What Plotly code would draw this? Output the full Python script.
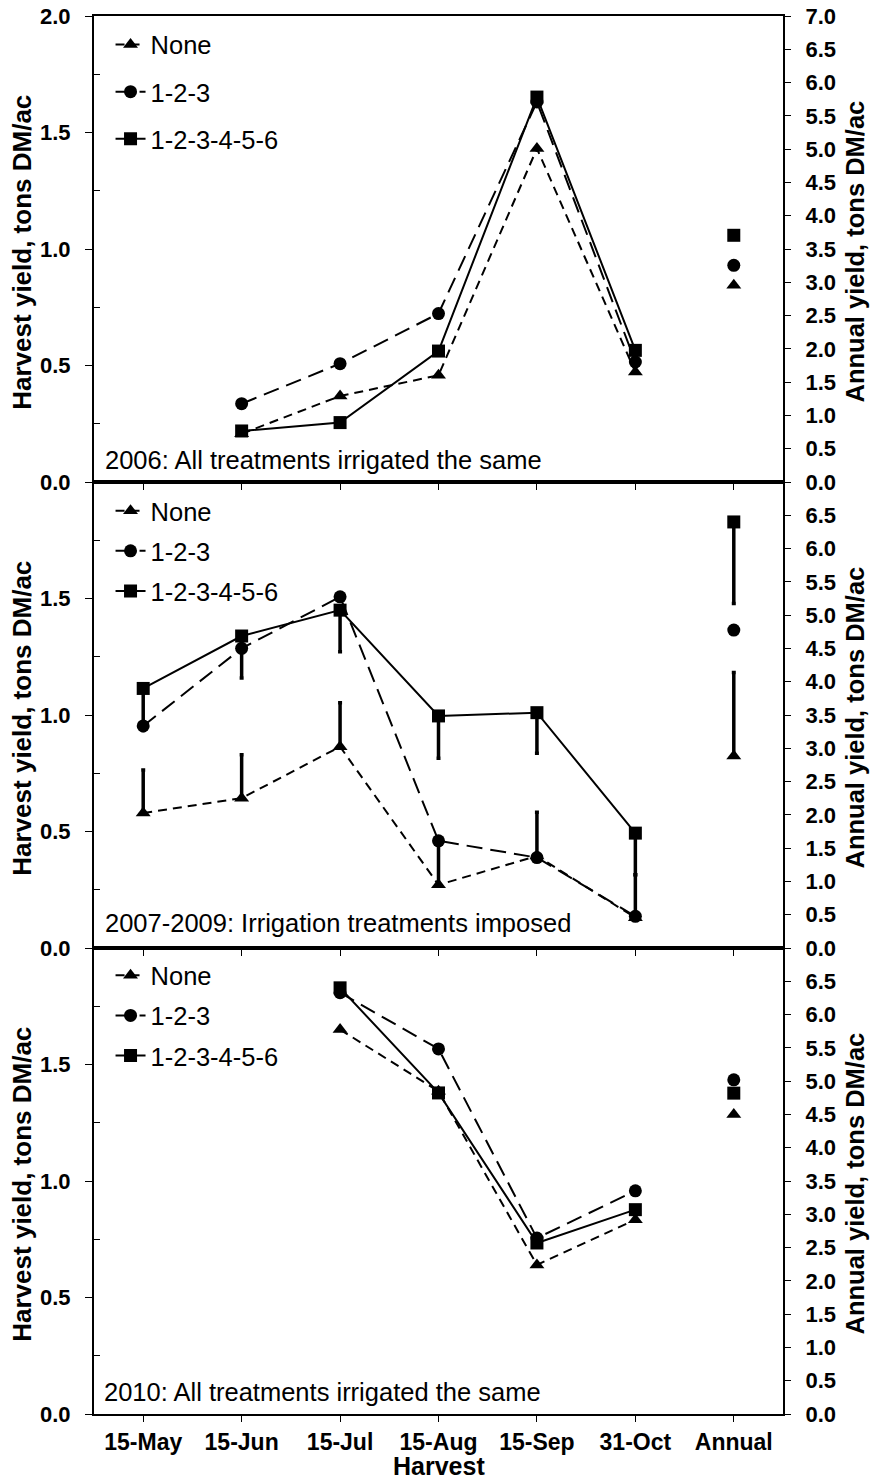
import plotly.graph_objects as go

# ---------------- data ----------------
categories = ["15-May", "15-Jun", "15-Jul", "15-Aug", "15-Sep", "31-Oct", "Annual"]
harvests = categories[:6]
annual_cat = "Annual"
treatments = ["None", "1-2-3", "1-2-3-4-5-6"]

# 2006 panel (harvest yield, tons DM/ac)
y2006_none = [None, 0.207, 0.369, 0.458, 1.431, 0.472]
y2006_123 = [None, 0.336, 0.508, 0.723, 1.631, 0.515]
y2006_all = [None, 0.219, 0.255, 0.562, 1.652, 0.565]
annual2006 = [2.955, 3.255, 3.706]          # None, 1-2-3, 1-2-3-4-5-6

# 2007-2009 panel
y0709_none = [0.579, 0.643, 0.864, 0.271, 0.395, 0.130]
y0709_123 = [0.953, 1.286, 1.507, 0.460, 0.388, 0.136]
y0709_all = [1.114, 1.339, 1.450, 0.996, 1.010, 0.493]
err0709_none_plus = [0.185, 0.186, 0.189, 0.190, 0.188, 0.184]
err0709_all_minus = [0.180, 0.180, 0.179, 0.182, 0.174, 0.179]
annual0709 = [2.885, 4.775, 6.400]
err_annual0709_none_plus = 1.255
err_annual0709_all_minus = 1.225

# 2010 panel
y2010_none = [None, None, 1.650, 1.385, 0.640, 0.834]
y2010_123 = [None, None, 1.808, 1.567, 0.755, 0.958]
y2010_all = [None, None, 1.829, 1.378, 0.734, 0.877]
annual2010 = [4.50, 5.02, 4.82]

left_ticks_top = [0.0, 0.5, 1.0, 1.5, 2.0]
left_ticks = [0.0, 0.5, 1.0, 1.5]
right_ticks_top = [i * 0.5 for i in range(15)]
right_ticks = [i * 0.5 for i in range(14)]

notes = ["2006: All treatments irrigated the same",
         "2007-2009: Irrigation treatments imposed",
         "2010: All treatments irrigated the same"]

# ---------------- styling ----------------
NARROW = "Liberation Sans, Arial, sans-serif"
BOLD = "Liberation Sans, Arial, sans-serif"
symbols = {"None": "triangle-up", "1-2-3": "circle", "1-2-3-4-5-6": "square"}
dashes = {"None": "9px,6px", "1-2-3": "16px,8px", "1-2-3-4-5-6": "solid"}
msize = 13

W, H = 871, 1479
ML, MR, MT, MB = 94, 88, 16, 65

fig = go.Figure()

panels = [
    dict(x="x", y="y", y2="y2", legend="legend",
         series=[y2006_none, y2006_123, y2006_all], annual=annual2006),
    dict(x="x2", y="y3", y2="y4", legend="legend2",
         series=[y0709_none, y0709_123, y0709_all], annual=annual0709),
    dict(x="x3", y="y5", y2="y6", legend="legend3",
         series=[y2010_none, y2010_123, y2010_all], annual=annual2010),
]

for pi, p in enumerate(panels):
    for ti, tname in enumerate(treatments):
        err = None
        if pi == 1 and tname == "None":
            err = dict(type="data", symmetric=False, array=err0709_none_plus,
                       arrayminus=[0] * 6, color="black", thickness=3.5, width=2)
        if pi == 1 and tname == "1-2-3-4-5-6":
            err = dict(type="data", symmetric=False, array=[0] * 6,
                       arrayminus=err0709_all_minus, color="black", thickness=3.5, width=2)
        fig.add_trace(go.Scatter(
            x=harvests, y=p["series"][ti], mode="lines+markers", name=tname,
            xaxis=p["x"], yaxis=p["y"], legend=p["legend"],
            legendgroup=f"{pi}-{tname}",
            line=dict(color="black", width=2, dash=dashes[tname]),
            marker=dict(symbol=symbols[tname], size=msize, color="black"),
            error_y=err, showlegend=True,
        ))
    for ti, tname in enumerate(treatments):
        err = None
        if pi == 1 and tname == "None":
            err = dict(type="data", symmetric=False, array=[err_annual0709_none_plus],
                       arrayminus=[0], color="black", thickness=3.5, width=2)
        if pi == 1 and tname == "1-2-3-4-5-6":
            err = dict(type="data", symmetric=False, array=[0],
                       arrayminus=[err_annual0709_all_minus], color="black", thickness=3.5, width=2)
        fig.add_trace(go.Scatter(
            x=[annual_cat], y=[p["annual"][ti]], mode="markers", name=tname,
            xaxis=p["x"], yaxis=p["y2"], showlegend=False,
            marker=dict(symbol=symbols[tname], size=msize, color="black"),
            error_y=err,
        ))

domains = [[2 / 3, 1.0], [1 / 3, 2 / 3], [0.0, 1 / 3]]
xcommon = dict(type="category", categoryorder="array", categoryarray=categories,
               range=[-0.5, 6.5], showline=True, linewidth=2, linecolor="black",
               mirror=True, ticks="outside", ticklen=6, tickwidth=1, tickcolor="black",
               showgrid=False, zeroline=False, automargin=False,
               tickfont=dict(family=BOLD, size=23, color="black", weight="bold"))
ycommon = dict(range=[0, 2], showline=True, linewidth=2, linecolor="black", mirror=True,
               ticks="outside", ticklen=7, tickwidth=1, tickcolor="black",
               showgrid=False, zeroline=False, tickmode="array", automargin=False,
               ticklabelstandoff=10, ticklabeloverflow="allow",
               minor=dict(tickmode="array", tickvals=[0.25, 0.75, 1.25, 1.75],
                          ticks="inside", ticklen=6, tickwidth=1, tickcolor="black",
                          showgrid=False),
               tickfont=dict(family=BOLD, size=22, color="black", weight="bold"))
y2common = dict(range=[0, 7], side="right", showline=False, ticks="outside", ticklen=7,
                tickwidth=1, tickcolor="black", showgrid=False, zeroline=False,
                tickmode="array", automargin=False, ticklabelstandoff=10,
                ticklabeloverflow="allow",
                tickfont=dict(family=BOLD, size=22, color="black", weight="bold"))

layout = dict(
    width=W, height=H, paper_bgcolor="white", plot_bgcolor="white",
    margin=dict(l=ML, r=MR, t=MT, b=MB, autoexpand=False), showlegend=True,
)
xnames = ["xaxis", "xaxis2", "xaxis3"]
ynames = ["yaxis", "yaxis3", "yaxis5"]
y2names = ["yaxis2", "yaxis4", "yaxis6"]
yrefs = ["y", "y3", "y5"]
for i in range(3):
    layout[xnames[i]] = dict(xcommon, anchor=yrefs[i], showticklabels=(i == 2))
    lt = left_ticks_top if i == 0 else left_ticks
    layout[ynames[i]] = dict(ycommon, domain=domains[i], anchor=["x", "x2", "x3"][i],
                             tickvals=lt, ticktext=[f"{v:.1f}" for v in lt])
    rt = right_ticks_top if i == 0 else right_ticks
    layout[y2names[i]] = dict(y2common, overlaying=yrefs[i], anchor=["x", "x2", "x3"][i],
                              tickvals=rt, ticktext=[f"{v:.1f}" for v in rt])

legend_style = dict(font=dict(family=NARROW, size=25.5, color="black"),
                    bgcolor="rgba(0,0,0,0)", borderwidth=0, traceorder="grouped",
                    xanchor="left", yanchor="top", itemwidth=30)
leg_y = [domains[0][1] - 0.0039, domains[1][1] - 0.004, domains[2][1] - 0.003]
gaps = [11, 4, 4]
for i, ln in enumerate(["legend", "legend2", "legend3"]):
    layout[ln] = dict(legend_style, x=0.024, y=leg_y[i], tracegroupgap=gaps[i])

fig.update_layout(**layout)

# panel notes
PW = W - ML - MR
PH = (H - MT - MB) / 3.0
note_y = [21.7 / PH, 25.0 / PH, 22.3 / PH]
note_x = [0.0135, 0.0135, 0.011]
for i in range(3):
    fig.add_annotation(text=notes[i], xref=f"{['x', 'x2', 'x3'][i]} domain",
                       yref=f"{yrefs[i]} domain", x=note_x[i], y=note_y[i],
                       xanchor="left", yanchor="middle", showarrow=False,
                       font=dict(family=NARROW, size=25.5, color="black"))
    fig.add_annotation(text="Harvest yield, tons DM/ac", textangle=-90,
                       xref="paper", yref=f"{yrefs[i]} domain", x=(21.7 - ML) / PW, y=0.5,
                       yshift=-3, xanchor="center", yanchor="middle", showarrow=False,
                       font=dict(family=BOLD, size=26, color="black", weight="bold"))
    fig.add_annotation(text="Annual yield, tons DM/ac", textangle=-90,
                       xref="paper", yref=f"{yrefs[i]} domain", x=(854.5 - ML) / PW, y=0.5,
                       yshift=-3, xanchor="center", yanchor="middle", showarrow=False,
                       font=dict(family=BOLD, size=25.5, color="black", weight="bold"))

fig.add_annotation(text="Harvest", xref="paper", yref="paper", x=0.5,
                   y=-52 / (H - MT - MB),
                   xanchor="center", yanchor="middle", showarrow=False,
                   font=dict(family=BOLD, size=25, color="black", weight="bold"))

fig.write_html(
    "out.html",
    config={"displayModeBar": False},
    post_script="document.body.style.margin='0';"
                "document.documentElement.style.overflow='hidden';"
                "document.body.style.overflow='hidden';",
)
